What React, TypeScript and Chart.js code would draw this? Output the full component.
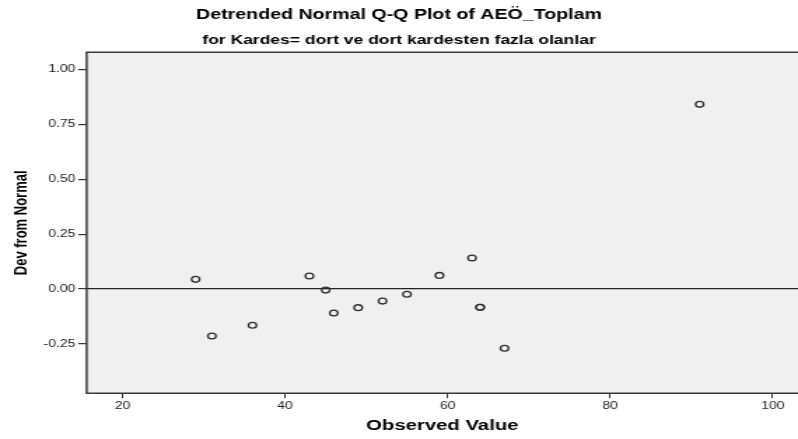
import React, { useEffect, useRef } from "react";
import { Chart, registerables } from "chart.js";

Chart.register(...registerables);

// ---- data ----
const observedValues = [29, 31, 36, 43, 45, 46, 49, 52, 55, 59, 63, 64, 64, 67, 91];
const devFromNormal = [0.044, -0.214, -0.165, 0.059, -0.005, -0.109, -0.085, -0.055, -0.024, 0.062, 0.141, -0.083, -0.083, -0.27, 0.841];
const xTickStep = 20;
const yTickStep = 0.25;
const xRange = [15.6, 103.1];
const yRange = [-0.475, 1.078];
const titleText = "Detrended Normal Q-Q Plot of AEÖ_Toplam";
const subtitleText = "for Kardes= dort ve dort kardesten fazla olanlar";
const xTitle = "Observed Value";
const yTitle = "Dev from Normal";

// ---- layout ----
const OUT_W = 798;
const OUT_H = 439;
const STRETCH = 1.4;
const INNER_W = Math.round(OUT_W / STRETCH);
const FONT = '"Liberation Sans", Arial, sans-serif';

const framePlugin = {
  id: "frame",
  beforeDraw(chart: any) {
    const { ctx, chartArea: a } = chart;
    ctx.save();
    ctx.fillStyle = "#f0f0f0";
    ctx.fillRect(a.left, a.top, a.right - a.left + 3, a.bottom - a.top);
    ctx.restore();
  },
  afterDraw(chart: any) {
    const { ctx, chartArea: a } = chart;
    ctx.save();
    ctx.strokeStyle = "#3a3a3a";
    ctx.lineWidth = 1.5;
    ctx.beginPath();
    ctx.moveTo(a.right + 3, a.top);
    ctx.lineTo(a.left, a.top);
    ctx.lineTo(a.left, a.bottom);
    ctx.lineTo(a.right + 3, a.bottom);
    ctx.stroke();
    ctx.restore();
  },
};

export default function App() {
  const ref = useRef<HTMLCanvasElement | null>(null);

  useEffect(() => {
    if (!ref.current) return;
    const chart = new Chart(ref.current, {
      type: "scatter",
      data: {
        datasets: [
          {
            data: observedValues.map((x, i) => ({ x, y: devFromNormal[i] })),
            pointRadius: 2.9,
            pointBorderWidth: 1.3,
            borderColor: "#2e2e2e",
            backgroundColor: "rgba(0,0,0,0)",
            pointStyle: "circle",
          },
        ],
      },
      options: {
        animation: false,
        responsive: false,
        devicePixelRatio: 1,
        layout: { padding: 0, autoPadding: false },
        plugins: {
          legend: { display: false },
          tooltip: { enabled: false },
          title: {
            display: true,
            text: titleText,
            color: "#000",
            font: { family: FONT, size: 14, weight: "bold" },
            padding: { top: 7.2, bottom: 4.0 },
          },
          subtitle: {
            display: true,
            text: subtitleText,
            color: "#000",
            font: { family: FONT, size: 12.5, weight: "bold" },
            padding: { top: 4.9, bottom: 4.4 },
          },
        },
        scales: {
          x: {
            type: "linear",
            position: "bottom",
            min: xRange[0],
            max: xRange[1],
            afterFit: (s: any) => {
              s.height = 45.7;
            },
            border: { display: false },
            grid: {
              drawOnChartArea: false,
              drawTicks: true,
              tickLength: 5,
              tickColor: "#333",
            },
            ticks: {
              stepSize: xTickStep,
              includeBounds: false,
              autoSkip: false,
              maxRotation: 0,
              padding: 2,
              color: "#222",
              font: { family: FONT, size: 10 },
            },
            title: {
              display: true,
              text: xTitle,
              color: "#000",
              font: { family: FONT, size: 14.5, weight: "bold" },
              padding: { top: 0, bottom: 4 },
            },
          },
          y: {
            type: "linear",
            min: yRange[0],
            max: yRange[1],
            afterFit: (s: any) => {
              s.width = 61.9;
            },
            border: { display: false },
            grid: {
              drawOnChartArea: true,
              drawTicks: true,
              tickLength: 6,
              tickColor: "#333",
              color: (c: any) => (c.tick && Math.abs(c.tick.value) < 1e-9 ? "#222" : "rgba(0,0,0,0)"),
              lineWidth: 1.2,
            },
            ticks: {
              stepSize: yTickStep,
              includeBounds: false,
              padding: 2,
              color: "#222",
              font: { family: FONT, size: 10 },
              callback: (v: any) => Number(v).toFixed(2),
            },
            title: {
              display: true,
              text: yTitle,
              color: "#000",
              font: { family: FONT, size: 13, weight: "bold" },
              padding: { top: 7.9, bottom: 0 },
            },
          },
        },
      },
      plugins: [framePlugin],
    } as any);
    return () => chart.destroy();
  }, []);

  return (
    <div style={{ position: "fixed", left: 0, top: 0, width: OUT_W, height: OUT_H, background: "#fff" }}>
      <canvas
        ref={ref}
        width={INNER_W}
        height={OUT_H}
        style={{ width: OUT_W + "px", height: OUT_H + "px", display: "block" }}
      />
    </div>
  );
}
